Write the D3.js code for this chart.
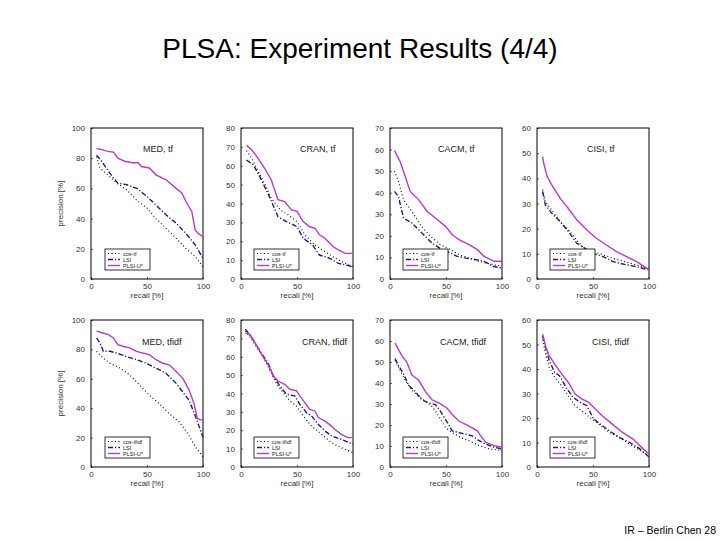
<!DOCTYPE html>
<html><head><meta charset="utf-8">
<script src="https://cdn.jsdelivr.net/npm/d3@7"></script>
<style>body{margin:0;background:#fff}svg{font-family:"Liberation Sans",Arial,sans-serif}</style>
</head><body><svg id="c" width="720" height="540"></svg>
<script>
// ---------- data ----------
const pageTitle = "PLSA: Experiment Results (4/4)";
const footer = "IR – Berlin Chen 28";
const panelTitles = ["MED, tf","CRAN, tf","CACM, tf","CISI, tf","MED, tfidf","CRAN, tfidf","CACM, tfidf","CISI, tfidf"];
const yMax = [100,80,70,60,100,80,70,60];
const yTickStep = [20,10,10,10,20,10,10,10];
const xTicks = [0,50,100];
const legendTf = ["cos-tf","LSI","PLSI-U*"];
const legendTfidf = ["cos-tfidf","LSI","PLSI-U*"];

// [recall %, precision %]
const medTfCos  = [[5,81],[8,73.5],[15,69],[23,63.5],[32,59],[41,52],[50,47],[58,40],[67,33.6],[76,27],[85,20],[93,15],[100,8]];
const medTfLsi  = [[5,82],[9.5,78],[15,72],[20,67],[24,63.5],[32,62.4],[41,60],[50,54.6],[58,49],[67,42.5],[76,37],[85,30],[93,22.6],[100,13.7]];
const medTfPlsi = [[5,86.3],[8,86],[15,84.5],[20,84],[24,80],[30,78],[37,77],[42,77],[45,74.5],[52,73.5],[58,69],[67,65.7],[76,60],[81,57],[85,51],[90,44.7],[93,32.5],[96,30],[100,28]];

const cranTfCos  = [[5,68],[9.5,64],[15.4,57],[21,50.8],[27,42.8],[35,36.6],[42,34],[50,30.4],[57,23.4],[66,18],[75,14.5],[84,11],[93,8.3],[100,6.5]];
const cranTfLsi  = [[5,63],[11,60.5],[17,54],[21,49],[26,42.8],[33,33],[40.6,30.4],[50,27.8],[55.5,21.6],[64,18],[70,12.7],[78,11.3],[87,8.3],[100,6.5]];
const cranTfPlsi = [[5,70.8],[9.5,68.5],[14,65],[21,58.8],[27,52.6],[33,42],[39,41],[45,36.6],[50,35.8],[55.5,30.4],[61,27.8],[66,26.9],[70,23.4],[75,21.6],[82,17.2],[87,15.4],[93,13.6],[100,13.6]];

const cacmTfCos  = [[4,50],[7.5,45.3],[12,36.8],[19.5,31.4],[27,25.2],[36,19.8],[45,15.9],[54,13.6],[61.5,11.3],[70.6,9.7],[79.6,8.2],[88.6,7],[100,5.9]];
const cacmTfLsi  = [[4,40.6],[7.5,38.3],[12,28.3],[19.5,26],[28.5,21.3],[37.5,16.7],[46.5,13.6],[54,12],[60,10.5],[67.6,9.7],[76.6,9],[84,8.2],[91.6,5.9],[100,5.1]];
const cacmTfPlsi = [[4,59.5],[9,54.5],[13.5,47.6],[18,40.6],[25.5,36.8],[33,31.4],[40.5,28.3],[49.5,24.4],[55.5,20.6],[61.5,18.2],[70.6,15.9],[78,13.6],[84,10.5],[93,8.2],[100,8.2]];

const cisiTfCos  = [[5,35.5],[7.4,30.8],[13,27.5],[20.7,22.8],[28,19.5],[35.5,15.5],[43,11.6],[50,10.9],[59,9.6],[68,8.2],[78,6.9],[89,5.6],[100,4.2]];
const cisiTfLsi  = [[5,34.8],[7.4,29.5],[13,26.2],[20.7,22.8],[28,18.9],[35.5,14.2],[43,12.2],[50,10.2],[59,8.9],[68,6.9],[78,5.8],[89,4.9],[100,3.6]];
const cisiTfPlsi = [[5,48.7],[6,46],[9,40.8],[13,37.5],[20.7,32],[28,28],[35.5,23.5],[46,18.9],[53,16.2],[62,13.5],[71,10.9],[80,8.9],[89,6.9],[100,3.6]];

const medIdfCos  = [[5,78.7],[11,74],[17,70.6],[26,67.2],[34.7,62.6],[43.5,55.7],[52,48.9],[61,43],[70,36.2],[79,30.5],[87.6,21.3],[93.5,13.3],[100,7]];
const medIdfLsi  = [[5,87.8],[8,84.4],[11,78.7],[17,78.7],[23,77.5],[32,75],[40.6,73],[49.4,70.6],[58,67.2],[67,63.8],[76,56.9],[82,51],[87.6,45.4],[93.5,34],[100,20.2]];
const medIdfPlsi = [[5,92.4],[9.7,91.3],[15.6,90],[20,87.8],[24,83.3],[29,82],[34.7,81],[40.6,78.7],[46.5,77.5],[52,76.4],[58,73],[64,70.6],[70,69.5],[76,65],[82,60.3],[87.6,52.3],[92,43],[95,32.8],[100,31.7]];

const cranIdfCos  = [[4,74],[9.5,69.5],[14,65],[20,59.5],[26,52.3],[32,45],[37.7,40.5],[43.6,36],[49.6,33.2],[55.5,27.8],[63,22.3],[72,17.8],[81,13.2],[89.6,10.5],[100,7.8]];
const cranIdfLsi  = [[4,75],[9.5,70.4],[14,65.9],[20,60.4],[24,56.8],[29,49.5],[34.7,44],[40.6,39.6],[48,38.7],[52.5,34],[58.5,29.6],[63,27.8],[69,23.2],[75,19.6],[81,16.9],[89.6,15],[100,12.3]];
const cranIdfPlsi = [[4,73],[8,72.2],[12.5,67.7],[18.4,61.3],[24,55.9],[29,49.5],[33,46.8],[39,45],[43.6,42.3],[49.6,41.4],[52.5,38.7],[57,35],[61.4,31.4],[66,30.5],[69,26.9],[75,25],[79,23.2],[83.7,20.5],[89.6,17.8],[95.5,16],[100,16]];

const cacmIdfCos  = [[4.5,50.8],[9,46],[13.5,41.4],[19.5,36.7],[25.5,33.6],[31.5,31.3],[37.5,28.9],[43.5,24.2],[49.5,18.8],[55.5,16.4],[63,14],[70.6,12.5],[79.6,10.2],[88.6,8.6],[100,7.8]];
const cacmIdfLsi  = [[4.5,51.6],[7.5,48.4],[12,44.5],[16.5,39],[22.5,36],[28.5,32],[34.5,30.5],[40.5,29.7],[45,26.6],[49.5,22.7],[55.5,17.2],[61.5,16.4],[67.6,15.6],[73.6,14.8],[79.6,12.5],[85.6,10.9],[93,9.4],[100,8.6]];
const cacmIdfPlsi = [[4.5,59],[10.5,53],[15,50],[19.5,43.8],[25.5,41.4],[31.5,36],[37.5,32],[43.5,30.5],[51,28],[55.5,25],[61.5,21.9],[70.6,19.5],[78,17.2],[81,14.8],[85.6,11.7],[93,10.2],[100,9.4]];

const cisiIdfCos  = [[5,52],[8,45.4],[11,40.6],[15.8,36.6],[22,33.2],[28,29],[34,25],[41.5,22.4],[49,19.6],[56.6,17],[64,14.2],[73,12.2],[82,9.5],[91.5,6.8],[100,4.7]];
const cisiIdfLsi  = [[5,53.5],[8,48],[11,43.4],[15.8,38.6],[20,37.3],[26,32.5],[32,28.5],[38.5,26.4],[44.5,25],[50.6,19.6],[58,17],[64,15],[73,12.2],[82,10.2],[91.5,7.5],[100,4.1]];
const cisiIdfPlsi = [[5,54.2],[8,48.8],[11,45.4],[15.8,42],[22,38],[28,34.5],[34,29.8],[40,27.8],[46,26.4],[52,23.7],[58,21],[67,17.6],[76,14.2],[85.5,11.5],[94.5,7.5],[100,5.4]];

const panelSeries = [
  [medTfCos, medTfLsi, medTfPlsi],[cranTfCos, cranTfLsi, cranTfPlsi],
  [cacmTfCos, cacmTfLsi, cacmTfPlsi],[cisiTfCos, cisiTfLsi, cisiTfPlsi],
  [medIdfCos, medIdfLsi, medIdfPlsi],[cranIdfCos, cranIdfLsi, cranIdfPlsi],
  [cacmIdfCos, cacmIdfLsi, cacmIdfPlsi],[cisiIdfCos, cisiIdfLsi, cisiIdfPlsi]
];

// ---------- layout & style ----------
const colLeft = [91,241,390,537];
const rowTop = [128,320];
const rowH = [151,147];
const panelW = 112;
const titleOffset = [52,59,48,50,51,61,50,55];
const seriesStyle = [
  {color:"#000000", dash:"1,2.5", width:1.1},
  {color:"#1c1c78", dash:"5,2,1.2,2", width:1.4},
  {color:"#b53cc4", dash:null, width:1.4}
];

const svg = d3.select("#c");
svg.append("text").attr("x",360).attr("y",58).attr("text-anchor","middle")
  .attr("font-size",28).attr("fill","#000").text(pageTitle);
svg.append("text").attr("x",716).attr("y",534).attr("text-anchor","end")
  .attr("font-size",10.5).attr("fill","#000").text(footer);

panelTitles.forEach((title,i)=>{
  const col = i%4, row = Math.floor(i/4);
  const x0 = colLeft[col], y0 = rowTop[row], h = rowH[row];
  const g = svg.append("g").attr("transform",`translate(${x0},${y0})`);
  const x = d3.scaleLinear().domain([0,100]).range([0,panelW]);
  const y = d3.scaleLinear().domain([0,yMax[i]]).range([h,0]);

  const yTicks = d3.range(0,yMax[i]+0.001,yTickStep[i]);
  const ya = g.append("g").call(d3.axisLeft(y).tickValues(yTicks).tickSize(-2).tickPadding(6).tickFormat(d3.format("d")));
  const xa = g.append("g").attr("transform",`translate(0,${h})`)
    .call(d3.axisBottom(x).tickValues(xTicks).tickSize(-2).tickPadding(4).tickFormat(d3.format("d")));
  [ya,xa].forEach(a=>{
    a.select(".domain").remove();
    a.selectAll("line").attr("stroke","#000").attr("stroke-width",0.6);
    a.selectAll("text").attr("font-size",8).attr("fill","#333").attr("font-family","Liberation Sans, Arial, sans-serif");
  });
  g.append("rect").attr("width",panelW).attr("height",h).attr("fill","none").attr("stroke","#000").attr("stroke-width",1);

  const line = d3.line().x(d=>x(d[0])).y(d=>y(d[1]));
  panelSeries[i].forEach((s,k)=>{
    const st = seriesStyle[k];
    g.append("path").datum(s).attr("d",line).attr("fill","none")
      .attr("stroke",st.color).attr("stroke-width",st.width)
      .attr("stroke-dasharray",st.dash);
  });

  g.append("text").attr("x",titleOffset[i]).attr("y",row===0?24:25)
    .attr("font-size",9).attr("fill","#222").text(title);

  g.append("text").attr("x",panelW/2).attr("y",h+19).attr("text-anchor","middle")
    .attr("font-size",8).attr("fill","#333").text("recall [%]");
  if(col===0){
    g.append("text").attr("transform",`translate(-28,${h/2}) rotate(-90)`).attr("text-anchor","middle")
      .attr("font-size",8).attr("fill","#333").text("precision [%]");
  }

  // legend
  const labels = row===0?legendTf:legendTfidf;
  const lg = g.append("g").attr("transform",`translate(${col===0?14:13},${h-30})`);
  lg.append("rect").attr("width",45).attr("height",21).attr("fill","#fff").attr("stroke","#000").attr("stroke-width",0.8);
  labels.forEach((lab,k)=>{
    const st = seriesStyle[k];
    const ly = 4.5+k*6;
    lg.append("line").attr("x1",3).attr("x2",15).attr("y1",ly).attr("y2",ly)
      .attr("stroke",st.color).attr("stroke-width",st.width).attr("stroke-dasharray",st.dash);
    lg.append("text").attr("x",18).attr("y",ly+2).attr("font-size",5.5).attr("fill","#222").text(lab);
  });
});
</script></body></html>
